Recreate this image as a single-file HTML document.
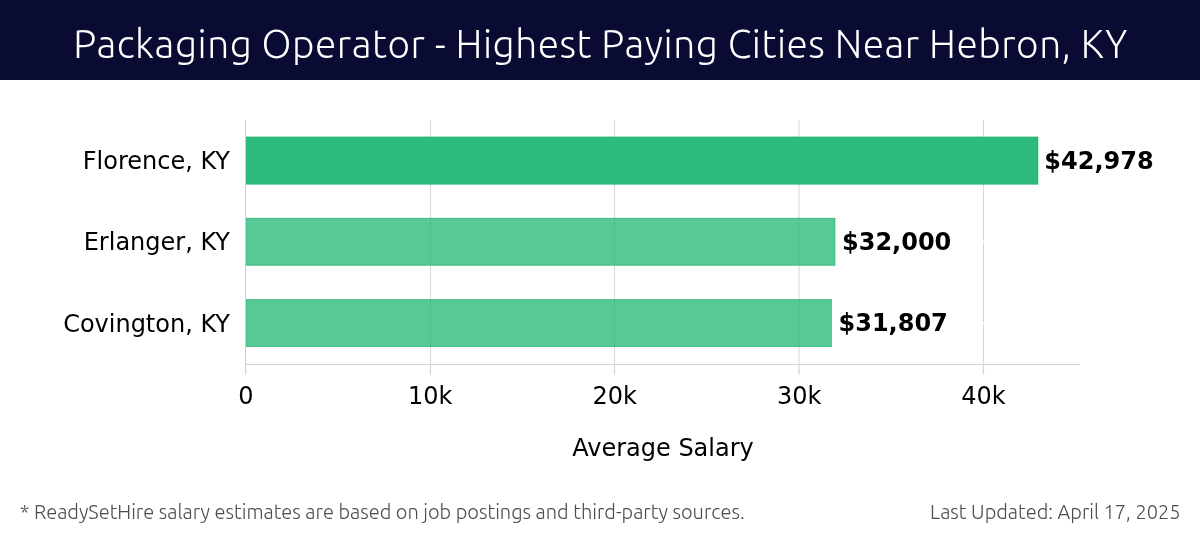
<!DOCTYPE html>
<html lang="en">
<head>
<meta charset="utf-8">
<title>Packaging Operator - Highest Paying Cities Near Hebron, KY</title>
<style>
  html, body { margin: 0; padding: 0; background: #ffffff; }
  body { width: 1200px; height: 540px; overflow: hidden; position: relative; }
  svg { display: block; position: absolute; left: 0; top: 0; }
  .title { font-family: "Ubuntu", "Liberation Sans", sans-serif; font-weight: 300; font-size: 38.8px; fill: #ffffff; }
  .foot { font-family: "Ubuntu", "Liberation Sans", sans-serif; font-weight: 300; font-size: 20px; fill: #4c4c4c; }
  .tick { font-family: "DejaVu Sans", "Liberation Sans", sans-serif; font-size: 24px; fill: #000000; }
  .val { font-family: "DejaVu Sans", "Liberation Sans", sans-serif; font-weight: bold; font-size: 24px; fill: #000000; }
</style>
</head>
<body>
<svg width="1200" height="540" viewBox="0 0 1200 540">
  <rect x="0" y="0" width="1200" height="540" fill="#ffffff"/>
  <!-- header -->
  <rect x="0" y="0" width="1200" height="80" fill="#0a0b33"/>
  <text class="title" x="73.3" y="58.1" textLength="1053.8" lengthAdjust="spacing">Packaging Operator - Highest Paying Cities Near Hebron, KY</text>

  <!-- grid -->
  <g stroke="#d7d7d7" stroke-width="1">
    <line x1="430.5" y1="120" x2="430.5" y2="364"/>
    <line x1="614.5" y1="120" x2="614.5" y2="364"/>
    <line x1="799" y1="120" x2="799" y2="364"/>
    <line x1="983.5" y1="120" x2="983.5" y2="364"/>
  </g>
  <rect x="981" y="240.9" width="4.5" height="1.9" fill="#ffffff"/>
  <rect x="981" y="322.2" width="4.5" height="1.9" fill="#ffffff"/>

  <!-- bars -->
  <rect x="245.5" y="136.7" width="792.7" height="47.8" fill="#2abb7a" fill-opacity="0.99"/>
  <rect x="245.5" y="217.9" width="589.8" height="47.8" fill="#2abb7a" fill-opacity="0.79"/>
  <rect x="245.5" y="299.2" width="586.3" height="47.8" fill="#2abb7a" fill-opacity="0.79"/>
  <g fill="none" stroke="#1f9a61" stroke-opacity="0.3" stroke-width="1">
    <rect x="246" y="137.2" width="791.7" height="46.8"/>
    <rect x="246" y="218.4" width="588.8" height="46.8"/>
    <rect x="246" y="299.7" width="585.3" height="46.8"/>
  </g>

  <!-- spines + ticks -->
  <g stroke="#cfcfcf" stroke-width="1">
    <line x1="245.5" y1="120" x2="245.5" y2="364.9"/>
    <line x1="245" y1="364.4" x2="1080" y2="364.4"/>
  </g>
  <g stroke="#d6d6d6" stroke-width="1.3">
    <line x1="245.6" y1="364.9" x2="245.6" y2="374.6"/>
    <line x1="430.4" y1="364.9" x2="430.4" y2="374.6"/>
    <line x1="614.5" y1="364.9" x2="614.5" y2="374.6"/>
    <line x1="799" y1="364.9" x2="799" y2="374.6"/>
    <line x1="983.4" y1="364.9" x2="983.4" y2="374.6"/>
  </g>

  <!-- y labels -->
  <text class="tick" x="82.77" y="169" textLength="147.23" lengthAdjust="spacing">Florence, KY</text>
  <text class="tick" x="83.7" y="250" textLength="146.3" lengthAdjust="spacing">Erlanger, KY</text>
  <text class="tick" x="63.13" y="331.7" textLength="166.87" lengthAdjust="spacing">Covington, KY</text>

  <!-- value labels -->
  <text class="val" x="1044.3" y="168.8" textLength="109.31" lengthAdjust="spacing">$42,978</text>
  <text class="val" x="842" y="250" textLength="109.31" lengthAdjust="spacing">$32,000</text>
  <text class="val" x="838.5" y="331" textLength="109.31" lengthAdjust="spacing">$31,807</text>

  <!-- x tick labels -->
  <text class="tick" x="238.16" y="404.2" textLength="15.28" lengthAdjust="spacing">0</text>
  <text class="tick" x="408.08" y="404.2" textLength="44.44" lengthAdjust="spacing">10k</text>
  <text class="tick" x="592.58" y="404.2" textLength="44.44" lengthAdjust="spacing">20k</text>
  <text class="tick" x="776.98" y="404.2" textLength="44.44" lengthAdjust="spacing">30k</text>
  <text class="tick" x="961.28" y="404.2" textLength="44.44" lengthAdjust="spacing">40k</text>

  <text class="tick" x="572.21" y="456" textLength="181.58" lengthAdjust="spacing">Average Salary</text>

  <!-- footer -->
  <text class="foot" x="20" y="518.8" textLength="724.7" lengthAdjust="spacing">* ReadySetHire salary estimates are based on job postings and third-party sources.</text>
  <text class="foot" x="930.1" y="518.8" textLength="250.4" lengthAdjust="spacing">Last Updated: April 17, 2025</text>
</svg>
</body>
</html>
